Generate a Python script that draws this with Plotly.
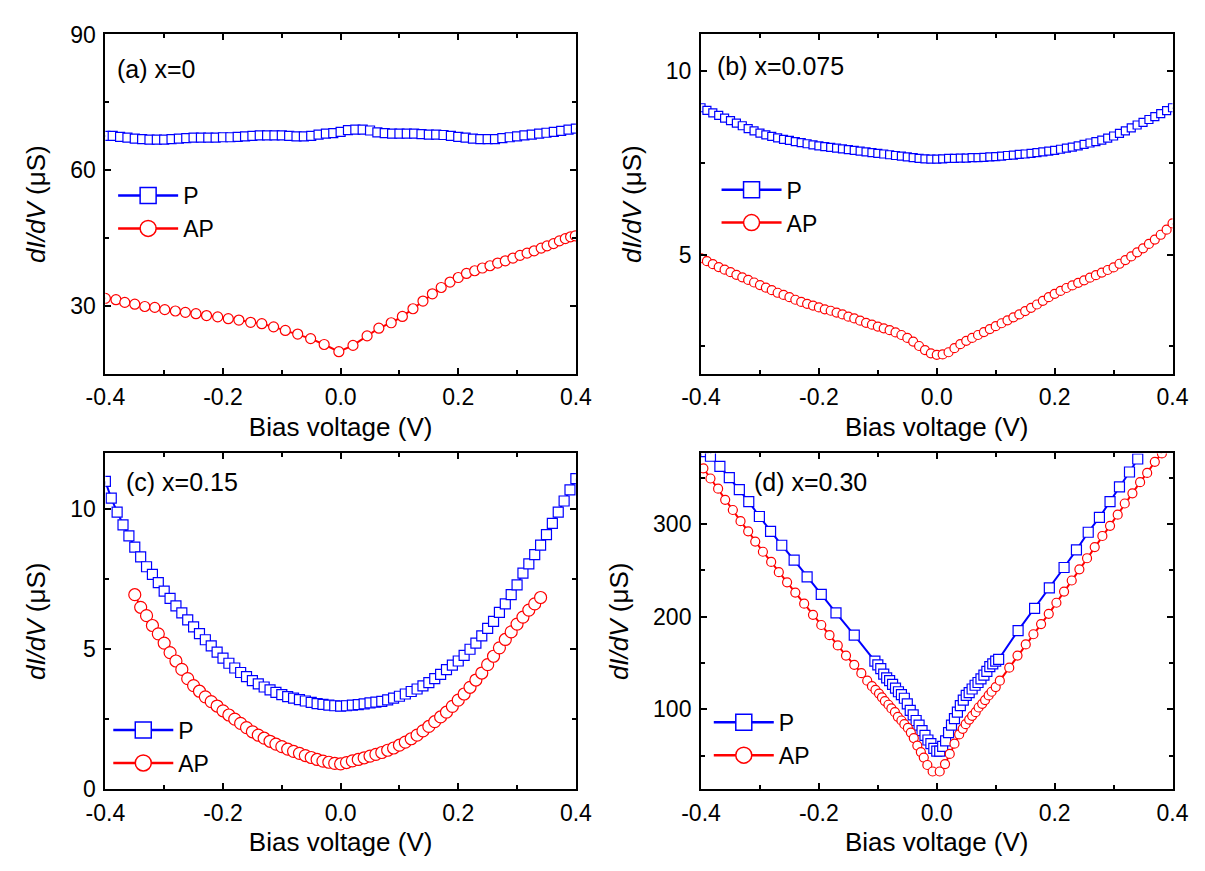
import plotly.graph_objects as go

FONT = "Liberation Sans, Arial, sans-serif"
BLUE = "#0000FF"
RED = "#FF0000"

# tick labels (hyphen minus as in the original figure)
x_tickvals = [-0.4, -0.2, 0.0, 0.2, 0.4]
x_ticktext = ["-0.4", "-0.2", "0.0", "0.2", "0.4"]

# ---------------- (a) x=0 ----------------
a_P_x = [round(-0.4 + 0.0125 * i, 4) for i in range(65)]
a_P_y = [67.6, 67.6, 67.4, 67.2, 67.0, 66.9, 66.8, 66.8, 66.8, 66.9, 67.0, 67.1, 67.2,
         67.2, 67.2, 67.2, 67.3, 67.3, 67.4, 67.5, 67.6, 67.7, 67.7, 67.7, 67.7, 67.6,
         67.5, 67.5, 67.6, 67.9, 68.1, 68.2, 68.5, 68.9, 69.0, 69.0, 68.8, 68.4, 68.2,
         68.1, 68.1, 68.1, 68.1, 68.0, 67.9, 67.9, 67.8, 67.6, 67.4, 67.2, 67.0, 66.9,
         66.9, 66.9, 67.1, 67.3, 67.5, 67.7, 67.9, 68.1, 68.3, 68.5, 68.7, 69.0, 69.2]
a_AP_x = [-0.400, -0.382, -0.367, -0.350, -0.333, -0.316, -0.299, -0.281, -0.264, -0.246,
          -0.228, -0.209, -0.191, -0.173, -0.153, -0.134, -0.114, -0.094, -0.073, -0.051,
          -0.028, -0.003, 0.021, 0.045, 0.065, 0.086, 0.105, 0.123, 0.140, 0.156, 0.171,
          0.186, 0.200, 0.214, 0.228, 0.241, 0.254, 0.267, 0.280, 0.293, 0.305, 0.317,
          0.329, 0.341, 0.351, 0.362, 0.372, 0.382, 0.391, 0.399]
a_AP_y = [31.7, 31.4, 30.8, 30.4, 29.9, 29.7, 29.2, 28.9, 28.6, 28.3, 27.9, 27.6, 27.2,
          26.9, 26.4, 26.1, 25.4, 24.6, 23.8, 22.8, 21.5, 19.9, 21.3, 23.4, 25.1, 26.3,
          27.7, 29.4, 31.1, 32.7, 34.1, 35.3, 36.3, 37.2, 37.8, 38.4, 38.9, 39.5, 40.0,
          40.6, 41.2, 41.7, 42.2, 42.8, 43.3, 43.8, 44.4, 44.9, 45.3, 45.5]

# ---------------- (b) x=0.075 ----------------
b_x = [round(-0.4 + 0.01 * i, 3) for i in range(81)]
b_P_y = [9.00, 8.93, 8.86, 8.79, 8.72, 8.65, 8.58, 8.51, 8.43, 8.37, 8.31, 8.26, 8.22,
         8.18, 8.14, 8.11, 8.08, 8.05, 8.02, 7.99, 7.96, 7.94, 7.92, 7.90, 7.88, 7.86,
         7.84, 7.82, 7.80, 7.78, 7.76, 7.74, 7.72, 7.70, 7.68, 7.66, 7.64, 7.62, 7.61,
         7.60, 7.60, 7.61, 7.62, 7.62, 7.63, 7.63, 7.64, 7.64, 7.65, 7.66, 7.67, 7.68,
         7.70, 7.71, 7.73, 7.74, 7.76, 7.78, 7.80, 7.82, 7.84, 7.87, 7.90, 7.93, 7.96,
         8.00, 8.04, 8.08, 8.12, 8.17, 8.23, 8.30, 8.37, 8.45, 8.53, 8.60, 8.68, 8.76,
         8.84, 8.92, 9.00]
b_AP_y = [4.90, 4.82, 4.74, 4.66, 4.59, 4.52, 4.45, 4.38, 4.31, 4.24, 4.17, 4.10, 4.03,
          3.96, 3.90, 3.84, 3.77, 3.71, 3.66, 3.61, 3.56, 3.51, 3.47, 3.42, 3.37, 3.31,
          3.26, 3.20, 3.14, 3.09, 3.04, 2.99, 2.94, 2.88, 2.81, 2.73, 2.63, 2.51, 2.40,
          2.31, 2.27, 2.28, 2.34, 2.45, 2.56, 2.65, 2.73, 2.81, 2.89, 2.97, 3.05, 3.13,
          3.21, 3.29, 3.37, 3.46, 3.55, 3.64, 3.74, 3.84, 3.93, 4.01, 4.09, 4.16, 4.23,
          4.30, 4.37, 4.44, 4.51, 4.58, 4.65, 4.75, 4.85, 4.95, 5.06, 5.17, 5.29, 5.41,
          5.54, 5.68, 5.85]

# ---------------- (c) x=0.15 ----------------
c_P_x = [round(-0.4 + 0.01 * i, 3) for i in range(81)]
c_P_y = [11.0, 10.4, 9.9, 9.45, 9.05, 8.65, 8.30, 7.95, 7.68, 7.38, 7.08, 6.82, 6.55,
         6.30, 6.05, 5.80, 5.56, 5.34, 5.12, 4.90, 4.68, 4.50, 4.33, 4.17, 4.02, 3.88,
         3.76, 3.65, 3.55, 3.46, 3.38, 3.31, 3.25, 3.20, 3.15, 3.10, 3.06, 3.03, 3.00,
         2.98, 2.97, 2.98, 3.00, 3.02, 3.05, 3.08, 3.11, 3.14, 3.19, 3.25, 3.32, 3.40,
         3.49, 3.58, 3.69, 3.81, 3.95, 4.10, 4.27, 4.43, 4.58, 4.78, 5.00, 5.22, 5.48,
         5.75, 6.00, 6.32, 6.62, 6.95, 7.30, 7.72, 8.05, 8.38, 8.72, 9.10, 9.50, 9.90,
         10.30, 10.70, 11.10]
c_AP_x = [round(-0.35 + 0.01 * i, 3) for i in range(70)]
c_AP_y = [6.95, 6.50, 6.20, 5.85, 5.55, 5.22, 4.88, 4.58, 4.28, 3.95, 3.70, 3.50, 3.30,
          3.13, 2.97, 2.80, 2.65, 2.50, 2.35, 2.20, 2.05, 1.93, 1.82, 1.71, 1.61, 1.52,
          1.43, 1.35, 1.28, 1.20, 1.13, 1.06, 1.00, 0.96, 0.92, 0.90, 0.95, 1.01, 1.06,
          1.12, 1.18, 1.24, 1.31, 1.39, 1.47, 1.57, 1.68, 1.80, 1.93, 2.08, 2.24, 2.41,
          2.58, 2.75, 2.96, 3.18, 3.40, 3.64, 3.90, 4.15, 4.45, 4.75, 5.05, 5.35, 5.62,
          5.90, 6.15, 6.40, 6.62, 6.85]

# ---------------- (d) x=0.30 ----------------
d_P_x = [-0.392, -0.384, -0.368, -0.352, -0.335, -0.319, -0.301, -0.282, -0.263, -0.242,
         -0.220, -0.196, -0.171, -0.140, -0.105,
         -0.100, -0.095, -0.090, -0.085, -0.080, -0.075, -0.070, -0.065, -0.060, -0.055,
         -0.050, -0.045, -0.040, -0.035, -0.030, -0.025, -0.020, -0.015, -0.010, -0.005,
         0.000, 0.005, 0.010, 0.015, 0.020, 0.025, 0.030, 0.035, 0.040, 0.045, 0.050,
         0.055, 0.060, 0.065, 0.070, 0.075, 0.080, 0.085, 0.090, 0.095, 0.100, 0.105,
         0.138, 0.166, 0.191, 0.216, 0.237, 0.257, 0.276, 0.294, 0.310, 0.327, 0.341]
d_P_y = [378, 373, 362, 350, 337, 324, 308, 292, 277, 261, 243, 224, 204, 180, 152,
         148, 144, 138, 134, 131, 127, 123, 119, 116, 112, 106, 99, 94, 88, 83, 77, 72,
         67, 63, 58, 55, 55, 60, 66, 75, 83, 90, 97, 104, 110, 115, 118, 122, 126, 129,
         133, 137, 141, 146, 149, 152, 154,
         185, 209, 231, 253, 272, 291, 307, 324, 340, 356, 370]
d_AP_x = [-0.396, -0.384, -0.371, -0.359, -0.346, -0.333, -0.320, -0.308, -0.295, -0.281,
          -0.268, -0.254, -0.240, -0.225, -0.210, -0.196, -0.182, -0.168, -0.154, -0.140,
          -0.128, -0.118, -0.110, -0.104, -0.098, -0.093, -0.088, -0.082, -0.077, -0.071,
          -0.066, -0.060, -0.055, -0.049, -0.044, -0.039, -0.033, -0.027, -0.022, -0.016,
          -0.007, 0.005, 0.014, 0.022, 0.030, 0.038, 0.044, 0.049, 0.055, 0.060, 0.066,
          0.071, 0.077, 0.082, 0.088, 0.093, 0.100, 0.107, 0.123, 0.137, 0.151, 0.164,
          0.177, 0.190, 0.203, 0.216, 0.229, 0.242, 0.255, 0.268, 0.281, 0.294, 0.307,
          0.319, 0.332, 0.345, 0.357, 0.370, 0.382]
d_AP_y = [360, 349, 338, 326, 315, 303, 292, 281, 270, 259, 248, 237, 226, 214, 202,
          191, 180, 169, 158, 148, 139, 131, 125, 121, 117, 113, 109, 105, 101, 97, 92,
          88, 84, 80, 75, 69, 61, 54, 48, 40, 33, 33, 41, 52, 63, 73, 79, 84, 89, 93, 97,
          102, 106, 110, 115, 119, 124, 131, 145, 158, 170, 181, 192, 203, 215, 227, 239,
          251, 263, 275, 287, 298, 310, 322, 333, 345, 355, 367, 376]

panels = [
    dict(P=(a_P_x, a_P_y), AP=(a_AP_x, a_AP_y), ps=9, aps=10, yr=[15, 90.05], dt=30, mdt=15,
         label="(a) x=0", xa="x", ya="y", leg="legend"),
    dict(P=(b_x, b_P_y), AP=(b_x, b_AP_y), ps=8, aps=9, yr=[1.75, 11], dt=5, mdt=2.5,
         label="(b) x=0.075", xa="x2", ya="y2", leg="legend2"),
    dict(P=(c_P_x, c_P_y), AP=(c_AP_x, c_AP_y), ps=10, aps=12, yr=[0, 12], dt=5, mdt=2.5,
         label="(c) x=0.15", xa="x3", ya="y3", leg="legend3"),
    dict(P=(d_P_x, d_P_y), AP=(d_AP_x, d_AP_y), ps=10, aps=9, yr=[14, 376], dt=100, mdt=50,
         label="(d) x=0.30", xa="x4", ya="y4", leg="legend4"),
]

W, H = 1205, 871
xdom = [[88 / W, 573 / W], [702 / W, 1188 / W]]
ydom = [[1 - 372 / H, 1 - 22 / H], [1 - 800 / H, 1 - 454 / H]]

fig = go.Figure()
layout = dict(
    width=W, height=H, margin=dict(l=0, r=0, t=0, b=0),
    paper_bgcolor="white", plot_bgcolor="white",
    font=dict(family=FONT, size=23, color="black"),
    showlegend=True,
)

# legend top-left corners (px) and label anchors (px)
legpos = [(96, 166), (718, 160), (91, 717), (710, 709)]
annpos = [(98, 58), (716, 55), (107, 483), (755, 483)]
annotations = []

for i, p in enumerate(panels):
    for name, key, sym, col, sz in [("P", "P", "square", BLUE, p["ps"]),
                                    ("AP", "AP", "circle", RED, p["aps"])]:
        xs, ys = p[key]
        fig.add_trace(go.Scatter(
            x=xs, y=ys, mode="lines+markers", xaxis=p["xa"], yaxis=p["ya"],
            line=dict(color=col, width=2),
            marker=dict(symbol=sym, size=sz, color="white", line=dict(color=col, width=1.2)),
            showlegend=False, name=name))
        # legend entry (no data of its own)
        fig.add_trace(go.Scatter(
            x=[None], y=[None], mode="lines+markers", xaxis=p["xa"], yaxis=p["ya"],
            line=dict(color=col, width=2.5),
            marker=dict(symbol=sym, size=16, color="white", line=dict(color=col, width=1.5)),
            showlegend=True, name=name, legend=p["leg"]))

    r, c = divmod(i, 2)
    sfx = "" if i == 0 else str(i + 1)
    layout["xaxis" + sfx] = dict(
        domain=xdom[c], anchor="y" + sfx, range=[-0.4, 0.4],
        tickmode="array", tickvals=x_tickvals, ticktext=x_ticktext,
        ticks="inside", ticklen=6, tickwidth=1.5, tickcolor="black",
        minor=dict(ticks="inside", dtick=0.1, tick0=0, ticklen=4, tickwidth=1.5,
                   tickcolor="black"),
        showline=True, linecolor="black", linewidth=2, mirror="allticks",
        showgrid=False, zeroline=False, ticklabelstandoff=2,
        tickfont=dict(size=23, family=FONT),
        title=dict(text="Bias voltage (V)", font=dict(size=26, family=FONT), standoff=8),
    )
    layout["yaxis" + sfx] = dict(
        domain=ydom[r], anchor="x" + sfx, range=p["yr"], dtick=p["dt"], tick0=0,
        ticks="inside", ticklen=6, tickwidth=1.5, tickcolor="black",
        minor=dict(ticks="inside", dtick=p["mdt"], tick0=0, ticklen=4, tickwidth=1.5,
                   tickcolor="black"),
        showline=True, linecolor="black", linewidth=2, mirror="allticks",
        showgrid=False, zeroline=False, ticklabelstandoff=3,
        tickfont=dict(size=23, family=FONT),
        title=dict(text="<i>dI/dV</i> (μS)", font=dict(size=26, family=FONT), standoff=17),
    )
    lx, ly = legpos[i]
    layout[p["leg"]] = dict(
        x=lx / W, y=1 - ly / H, xanchor="left", yanchor="top", bgcolor="rgba(0,0,0,0)",
        font=dict(size=23, family=FONT), tracegroupgap=0, itemsizing="trace",
        itemwidth=60,
    )
    ax, ay = annpos[i]
    annotations.append(dict(
        text=p["label"], x=ax / W, y=1 - ay / H, xref="paper", yref="paper",
        xanchor="left", yanchor="middle", showarrow=False,
        font=dict(size=25, family=FONT, color="black")))

layout["annotations"] = annotations
fig.update_layout(**layout)
fig.write_html("out.html")
